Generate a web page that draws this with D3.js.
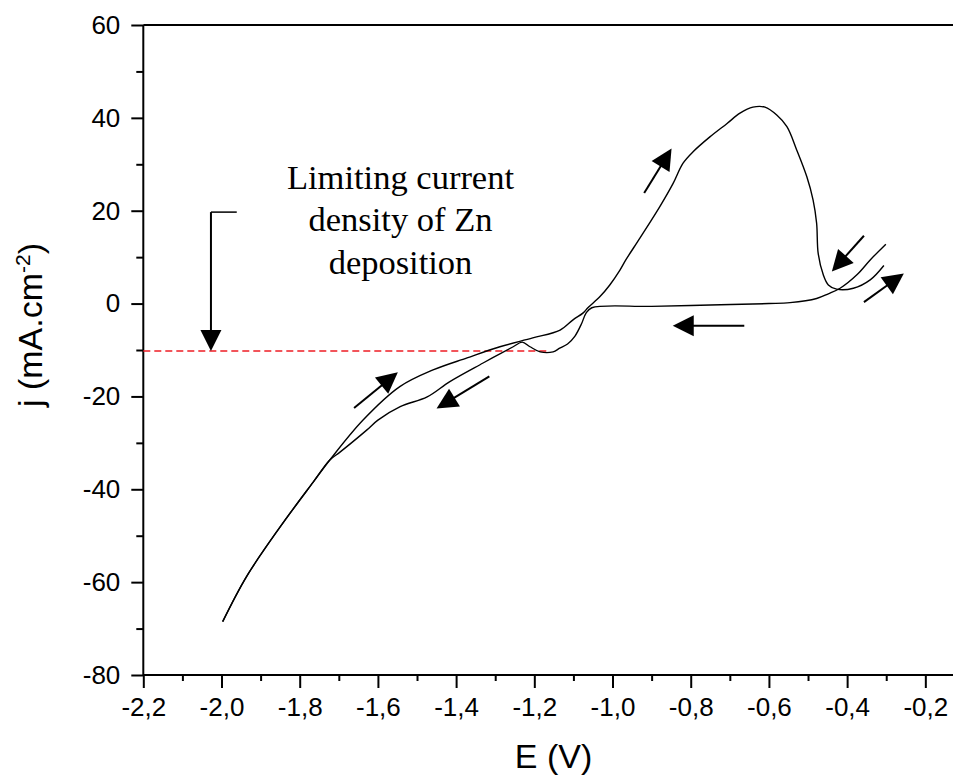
<!DOCTYPE html>
<html>
<head>
<meta charset="utf-8">
<script src="https://cdn.jsdelivr.net/npm/d3@7"></script>
<style>
  html, body { margin: 0; padding: 0; background: #fff; }
  svg { display: block; }
  .tick text { font-family: "Liberation Sans", Arial, sans-serif; font-size: 26px; fill: #000; }
  .tick line { stroke: #000; stroke-width: 2; }
</style>
</head>
<body>
<figure style="margin:0"></figure>
<script>
// cathodic scan, starts at -0.3 V and runs to -2.0 V
const E_forward = [-0.301, -0.341, -0.375, -0.418, -0.448, -0.478, -0.546, -0.60, -0.75, -0.90, -1.053,
    -1.068, -1.079, -1.096, -1.115, -1.135, -1.152, -1.185, -1.211, -1.231, -1.254, -1.331, -1.416, -1.474,
    -1.543, -1.600, -1.628, -1.697, -1.723, -1.765, -1.850, -1.936, -1.997];
const j_forward = [12.8, 9.4, 6.2, 3.3, 2.1, 1.1, 0.2, 0.0, -0.3, -0.6, -0.9,
    -2.1, -4.3, -7.0, -8.7, -9.6, -10.4, -10.4, -9.3, -8.3, -9.3, -12.8, -16.8, -20.1,
    -22.2, -25.1, -27.2, -32.0, -33.7, -38.4, -48.1, -58.8, -68.5];

// anodic (return) scan, -2.0 V back to -0.3 V
const E_reverse = [-1.997, -1.936, -1.850, -1.765, -1.723, -1.638, -1.544, -1.459, -1.372, -1.288, -1.204, -1.134,
    -1.101, -1.075, -1.063, -1.032, -1.007, -0.981, -0.966, -0.930, -0.879, -0.845, -0.820, -0.794, -0.751,
    -0.707, -0.674, -0.641, -0.610, -0.580, -0.554, -0.529, -0.503, -0.487, -0.478, -0.474, -0.461, -0.448,
    -0.427, -0.384, -0.341, -0.306];
const j_reverse = [-68.5, -58.8, -48.1, -38.4, -33.7, -25.1, -17.9, -14.3, -11.7, -9.3, -7.4, -5.7,
    -3.5, -2.0, -0.9, 1.5, 4.0, 7.2, 9.4, 14.1, 20.9, 25.9, 30.2, 32.7, 35.9,
    38.8, 41.0, 42.3, 42.3, 40.6, 38.1, 33.1, 27.3, 22.3, 17.3, 10.8, 6.2, 4.0,
    3.1, 3.3, 5.1, 8.2];

// scan direction arrows: [E tail, j tail, E tip, j tip]
const scanArrows = [
    [-0.919, 23.8, -0.849, 33.4],
    [-0.357, 14.6, -0.439, 6.9],
    [-0.357, 0.3, -0.255, 6.5],
    [-0.663, -4.8, -0.846, -4.8],
    [-1.661, -22.5, -1.549, -14.8],
    [-1.315, -15.7, -1.450, -22.6]
];

const limitingCurrent = -10.2;
const limitingEnd = -1.168;
const noteLines = ["Limiting current", "density of Zn", "deposition"];
const noteBracket = { E0: -1.961, E1: -2.027, jTop: 19.7 };

const xMajor = [-2.2, -2.0, -1.8, -1.6, -1.4, -1.2, -1.0, -0.8, -0.6, -0.4, -0.2];
const xMinor = [-2.1, -1.9, -1.7, -1.5, -1.3, -1.1, -0.9, -0.7, -0.5, -0.3];
const yMajor = [-80, -60, -40, -20, 0, 20, 40, 60];
const yMinor = [-70, -50, -30, -10, 10, 30, 50];

const width = 953, height = 776;

const x = d3.scaleLinear().domain([-2.2, -0.13]).range([143.3, 952.7]);
const y = d3.scaleLinear().domain([-80, 60]).range([675, 25]);

const svg = d3.select('figure')
    .append('svg')
    .attr('width', width)
    .attr('height', height)
    .style('background', '#fff');

/**
 * Draws an arrow with a filled triangular head
 * @param {*} g group to append into
 * @param {*} x1 tail x (px)
 * @param {*} y1 tail y (px)
 * @param {*} x2 tip x (px)
 * @param {*} y2 tip y (px)
 */
function arrow(g, x1, y1, x2, y2) {
    const headLen = 21, headHalf = 10.5;
    const dx = x2 - x1, dy = y2 - y1;
    const len = Math.hypot(dx, dy);
    const ux = dx / len, uy = dy / len;
    const bx = x2 - ux * headLen, by = y2 - uy * headLen;
    g.append('line')
        .attr('x1', x1).attr('y1', y1)
        .attr('x2', bx + ux * 2).attr('y2', by + uy * 2)
        .attr('stroke', '#000')
        .attr('stroke-width', 2);
    g.append('polygon')
        .attr('points', [
            [x2, y2],
            [bx - uy * headHalf, by + ux * headHalf],
            [bx + uy * headHalf, by - ux * headHalf]
        ].map(p => p.join(',')).join(' '))
        .attr('fill', '#000');
}

// axes
const fmt = d => d3.format('.1f')(d).replace('.', ',').replace('−', '-');

svg.append('g')
    .attr('transform', `translate(0,${y(-80)})`)
    .call(d3.axisBottom(x).tickValues(xMajor).tickSize(13).tickPadding(10).tickFormat(fmt))
    .call(g => g.select('.domain').remove());

svg.append('g')
    .attr('transform', `translate(0,${y(-80)})`)
    .call(d3.axisBottom(x).tickValues(xMinor).tickSize(6).tickFormat(''))
    .call(g => g.select('.domain').remove());

svg.append('g')
    .attr('transform', `translate(${x(-2.2)},0)`)
    .call(d3.axisLeft(y).tickValues(yMajor).tickSize(12).tickPadding(11).tickFormat(d => String(d).replace('−', '-')))
    .call(g => g.select('.domain').remove());

svg.append('g')
    .attr('transform', `translate(${x(-2.2)},0)`)
    .call(d3.axisLeft(y).tickValues(yMinor).tickSize(7).tickFormat(''))
    .call(g => g.select('.domain').remove());

const frame = svg.append('g')
    .attr('stroke', '#000')
    .attr('stroke-width', 2);

frame.append('line')
    .attr('x1', x(-2.2)).attr('x2', width)
    .attr('y1', y(-80)).attr('y2', y(-80));
frame.append('line')
    .attr('x1', x(-2.2)).attr('x2', width)
    .attr('y1', y(60)).attr('y2', y(60));
frame.append('line')
    .attr('x1', x(-2.2)).attr('x2', x(-2.2))
    .attr('y1', y(60)).attr('y2', y(-80));

// axis titles
svg.append('text')
    .attr('x', 553.5)
    .attr('y', 768)
    .attr('text-anchor', 'middle')
    .style('font-family', '"Liberation Sans", Arial, sans-serif')
    .style('font-size', '34px')
    .text('E (V)');

const yTitle = svg.append('text')
    .attr('transform', 'translate(41.5,325) rotate(-90)')
    .attr('text-anchor', 'middle')
    .style('font-family', '"Liberation Sans", Arial, sans-serif')
    .style('font-size', '34px');
yTitle.append('tspan').text('j (mA.cm');
yTitle.append('tspan').attr('dy', -12).style('font-size', '21px').text('-2');
yTitle.append('tspan').attr('dy', 12).text(')');

// limiting current line
svg.append('line')
    .attr('x1', x(-2.2)).attr('x2', x(limitingEnd))
    .attr('y1', y(limitingCurrent)).attr('y2', y(limitingCurrent))
    .attr('stroke', '#ee1c25')
    .attr('stroke-width', 1.5)
    .attr('stroke-dasharray', '7,4');

// voltammogram
const line = d3.line()
    .x(d => x(d[0]))
    .y(d => y(d[1]))
    .curve(d3.curveCatmullRom.alpha(0.5));

const scans = [
    d3.zip(E_forward, j_forward),
    d3.zip(E_reverse, j_reverse)
];

svg.append('g')
    .attr('fill', 'none')
    .attr('stroke', '#000')
    .attr('stroke-width', 1.4)
    .selectAll('path')
    .data(scans)
    .join('path')
    .attr('d', line);

// direction arrows
const arrows = svg.append('g');
scanArrows.forEach(a => arrow(arrows, x(a[0]), y(a[1]), x(a[2]), y(a[3])));

// annotation
arrows.append('polyline')
    .attr('points', `${x(noteBracket.E0)},${y(noteBracket.jTop)} ${x(noteBracket.E1)},${y(noteBracket.jTop)}`)
    .attr('fill', 'none')
    .attr('stroke', '#000')
    .attr('stroke-width', 1.5);
arrow(arrows, x(noteBracket.E1), y(noteBracket.jTop), x(noteBracket.E1), y(limitingCurrent));

svg.append('g')
    .selectAll('text')
    .data(noteLines)
    .join('text')
    .attr('x', 400.5)
    .attr('y', (d, i) => 188.5 + i * 42.5)
    .attr('text-anchor', 'middle')
    .style('font-family', '"Liberation Serif", "Times New Roman", serif')
    .style('font-size', '34.5px')
    .text(d => d);
</script>
</body>
</html>
